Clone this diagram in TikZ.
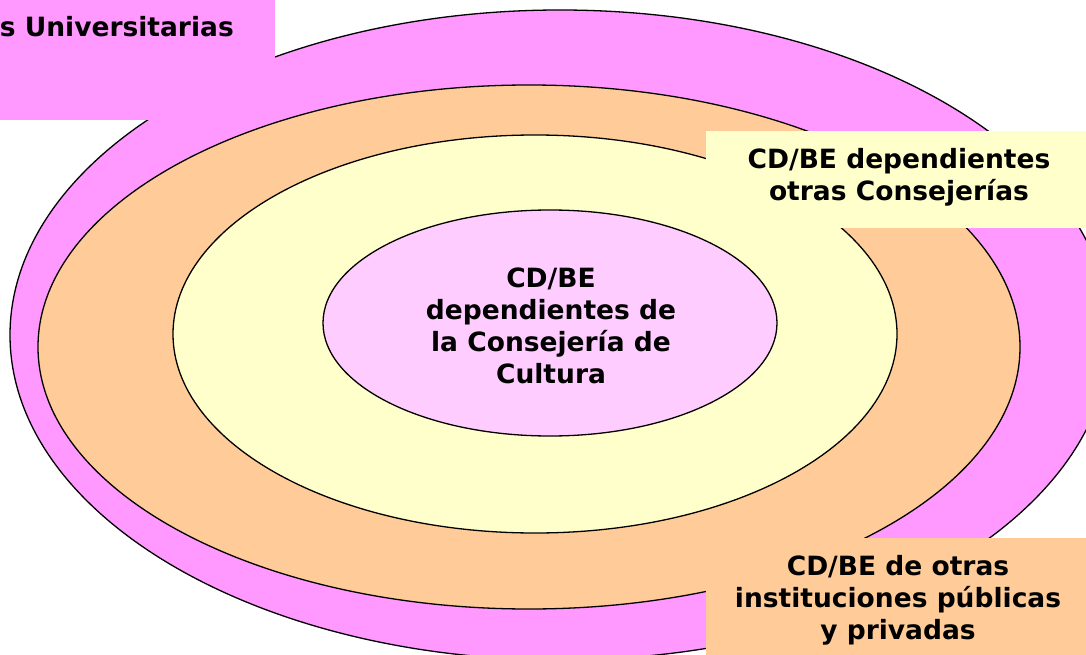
\documentclass[tikz,border=0pt]{standalone}
\usepackage{fontspec}
\setmainfont{DejaVu Sans}
\usetikzlibrary{shapes.geometric}
\definecolor{pinkO}{HTML}{FF99FF}
\definecolor{orangeR}{HTML}{FFCC99}
\definecolor{yellowR}{HTML}{FFFFCC}
\definecolor{pinkI}{HTML}{FFCCFF}
\begin{document}
\begin{tikzpicture}[x=1pt,y=-1pt,
  ring/.style={ellipse, draw=black, line width=1.3pt, inner sep=0pt},
  labelbox/.style={rectangle, draw=none, inner sep=0pt, anchor=north west},
  lab/.style={font=\bfseries\fontsize{26.5}{32}\selectfont, align=center, text=black, inner sep=0pt}]
\useasboundingbox (0,0) rectangle (1086,655);
\clip (0,0) rectangle (1086,655);
\node[ring, fill=pinkO, minimum width=1100pt, minimum height=650pt] (outer) at (560,335) {};
\node[ring, fill=orangeR, minimum width=982pt, minimum height=524pt] (orange) at (529,347) {};
\node[ring, fill=yellowR, minimum width=724pt, minimum height=398pt] (yellow) at (535,334) {};
\node[ring, fill=pinkI, minimum width=454pt, minimum height=226pt] (inner) at (550,323) {};
\node[lab] (innerText) at (551,326) {CD/BE\\dependientes de\\la Consejería de\\Cultura};
\node[labelbox, fill=pinkO, minimum width=300pt, minimum height=120pt] (uniBox) at (-25,0) {};
\node[lab, anchor=base east] (uniText) at (234,37) {s Universitarias};
\node[labelbox, fill=yellowR, minimum width=400pt, minimum height=97pt] (consBox) at (706,131) {};
\node[lab] (consText) at (899,177) {CD/BE dependientes\\otras Consejerías};
\node[labelbox, fill=orangeR, minimum width=400pt, minimum height=130pt] (instBox) at (706,538) {};
\node[lab] (instText) at (898,600) {CD/BE de otras\\instituciones públicas\\y privadas};
\end{tikzpicture}
\end{document}
